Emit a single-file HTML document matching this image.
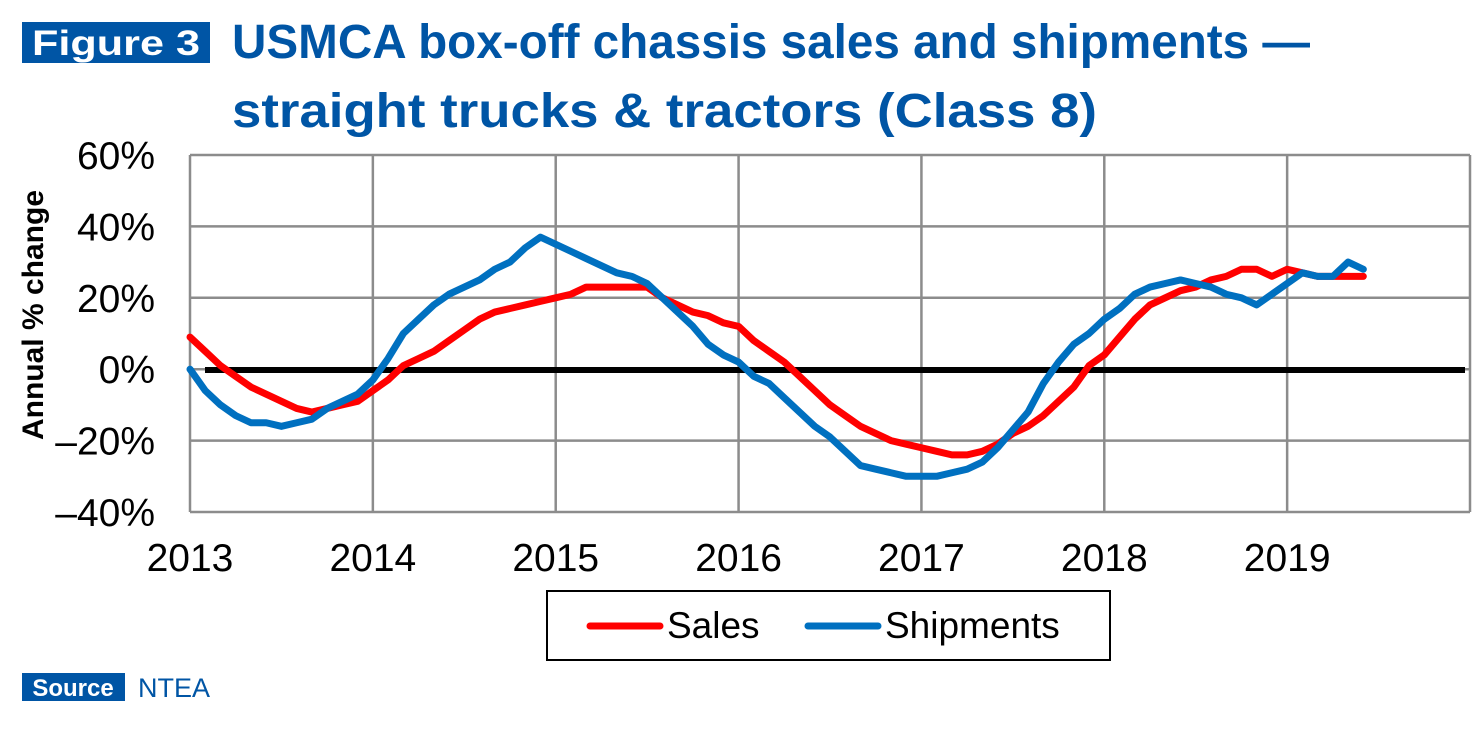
<!DOCTYPE html>
<html><head><meta charset="utf-8"><style>body{margin:0;background:#fff}svg{display:block}</style></head>
<body>
<svg id="chart" width="1483" height="735" xmlns="http://www.w3.org/2000/svg" font-family="'Liberation Sans', sans-serif">
<rect x="22" y="22" width="188" height="41" fill="#0055a5"/>
<text x="32" y="55" fill="#fff" font-weight="bold" font-size="35" textLength="168" lengthAdjust="spacingAndGlyphs">Figure 3</text>
<text x="232" y="58" fill="#0055a5" font-weight="bold" font-size="48" textLength="1078" lengthAdjust="spacingAndGlyphs">USMCA box-off chassis sales and shipments —</text>
<text x="232" y="127" fill="#0055a5" font-weight="bold" font-size="48" textLength="865" lengthAdjust="spacingAndGlyphs">straight trucks &amp; tractors (Class 8)</text>
<g id="grid"></g>
<g id="yticks"></g>
<g id="xticks"></g>
<text transform="translate(43,315) rotate(-90)" text-anchor="middle" font-weight="bold" font-size="30">Annual % change</text>
<line x1="205" x2="1465" y1="370" y2="370" stroke="#000" stroke-width="6"/>
<g id="series"></g>
<rect x="547" y="591" width="563" height="69" fill="#fff" stroke="#000" stroke-width="2"/>
<g><line x1="590" x2="660" y1="626" y2="626" stroke="#ff0000" stroke-width="7" stroke-linecap="round"/><text x="667" y="638" font-size="37">Sales</text></g>
<g><line x1="808" x2="878" y1="626" y2="626" stroke="#0070c0" stroke-width="7" stroke-linecap="round"/><text x="885" y="638" font-size="37">Shipments</text></g>
<rect x="22" y="673" width="103" height="28" fill="#0055a5"/>
<text x="73" y="696" fill="#fff" font-weight="bold" font-size="24" text-anchor="middle">Source</text>
<text x="138" y="697" fill="#0055a5" font-size="27">NTEA</text>
</svg>
<script>
const yTicks=[60,40,20,0,-20,-40];
const yTickLabels=["60%","40%","20%","0%","–20%","–40%"];
const xYears=[2013,2014,2015,2016,2017,2018,2019];
const sales=[9,5,1,-2,-5,-7,-9,-11,-12,-11,-10,-9,
-6,-3,1,3,5,8,11,14,16,17,18,19,
20,21,23,23,23,23,23,20,18,16,15,13,
12,8,5,2,-2,-6,-10,-13,-16,-18,-20,-21,
-22,-23,-24,-24,-23,-21,-18,-16,-13,-9,-5,1,
4,9,14,18,20,22,23,25,26,28,28,26,
28,27,26,26,26,26];
const shipments=[0,-6,-10,-13,-15,-15,-16,-15,-14,-11,-9,-7,
-3,3,10,14,18,21,23,25,28,30,34,37,
35,33,31,29,27,26,24,20,16,12,7,4,
2,-2,-4,-8,-12,-16,-19,-23,-27,-28,-29,-30,
-30,-30,-29,-28,-26,-22,-17,-12,-4,2,7,10,
14,17,21,23,24,25,24,23,21,20,18,21,
24,27,26,26,30,28];
const NS="http://www.w3.org/2000/svg";
const x0=190,x1=1470,yTop=155,yBot=512;
const xMonth=i=>x0+i*(x1-x0)/84;
const xYear=y=>x0+(y-2013)*(x1-x0)/7;
const yScale=v=>yTop+(60-v)*(yBot-yTop)/100;
function mk(t,a,p){const e=document.createElementNS(NS,t);for(const k in a)e.setAttribute(k,a[k]);p.appendChild(e);return e;}
const grid=document.getElementById('grid');
yTicks.forEach(v=>{const l=mk('line',{x1:x0,x2:x1,y1:yScale(v),y2:yScale(v),stroke:'#8c8c8c','stroke-width':2.5},grid);

});
for(let y=2013;y<=2020;y++){const l=mk('line',{x1:xYear(y),x2:xYear(y),y1:yTop,y2:yBot,stroke:'#8c8c8c','stroke-width':2.5},grid);

}
const yt=document.getElementById('yticks');
yTicks.forEach((v,i)=>{const t=mk('text',{x:155,y:yScale(v)+14,'text-anchor':'end','font-size':39},yt);t.textContent=yTickLabels[i];

});
const xt=document.getElementById('xticks');
xYears.forEach(y=>{const t=mk('text',{x:xYear(y),y:571,'text-anchor':'middle','font-size':39},xt);t.textContent=y;

});
const sg=document.getElementById('series');
[[sales,'#ff0000','sales-line'],[shipments,'#0070c0','shipments-line']].forEach(([d,c,n])=>{
const p=mk('polyline',{points:d.map((v,i)=>xMonth(i)+','+yScale(v)).join(' '),fill:'none',stroke:c,'stroke-width':7,'stroke-linejoin':'round','stroke-linecap':'round'},sg);

});
</script>
</body></html>
